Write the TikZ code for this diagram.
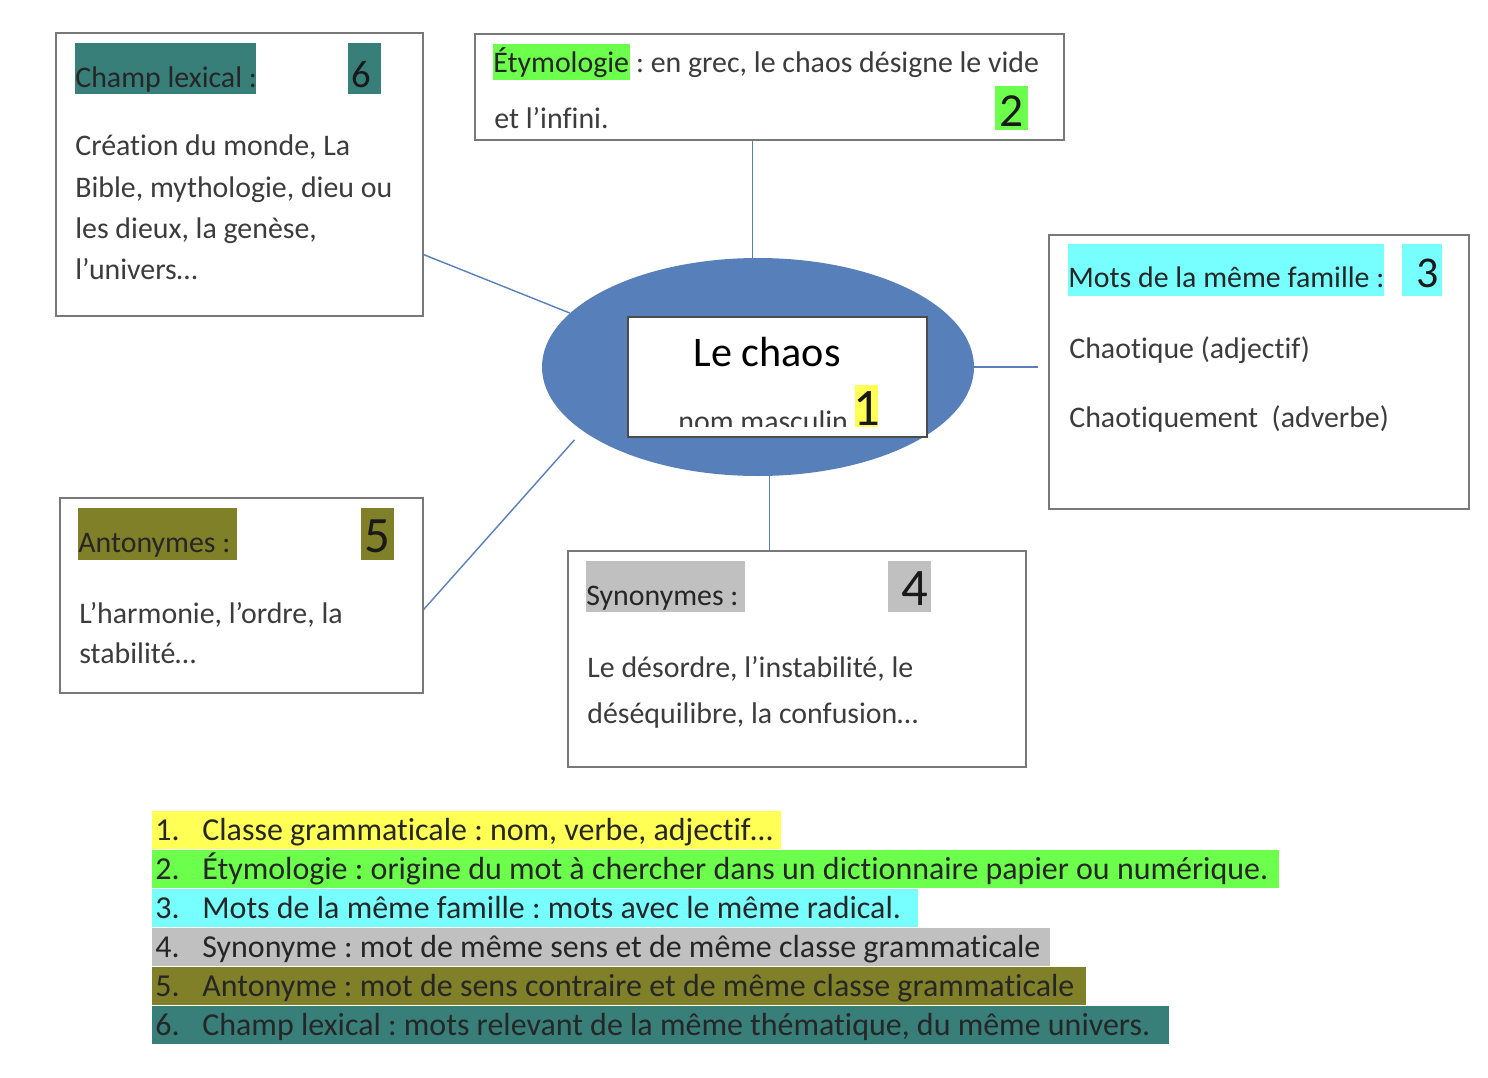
\documentclass[tikz,border=0pt]{standalone}
\usepackage{fontspec}
\setmainfont{Carlito}[Ligatures={TeX,NoCommon}]
\usetikzlibrary{calc}
\usetikzlibrary{shapes.geometric}
\usepackage{xcolor}

\definecolor{jaune}{RGB}{255,255,85}
\definecolor{vert}{RGB}{108,255,76}
\definecolor{cyan3}{RGB}{119,255,255}
\definecolor{gris4}{RGB}{192,192,192}
\definecolor{olive5}{RGB}{128,128,40}
\definecolor{teal6}{RGB}{56,127,122}
\definecolor{bleu}{RGB}{87,127,186}
\definecolor{bordgris}{RGB}{120,120,120}
\definecolor{texte}{RGB}{60,60,60}

\newlength{\pxu}
\setlength{\pxu}{0.02cm}
\frenchspacing

\tikzset{
  boite/.style={draw=bordgris, line width=0.9pt, inner sep=0, anchor=north west},
  ligne/.style={anchor=base west, inner sep=0, text=texte, font=\fontsize{17}{20}\selectfont},
  surl/.style={anchor=north west, inner sep=0, text=black!85, font=\fontsize{17}{20}\selectfont},
  numero/.style={anchor=north west, inner sep=0, text=black!90},
  liste/.style={anchor=north west, inner sep=0, text=black!85, text height=29\pxu, text depth=9\pxu, font=\fontsize{18.2}{20}\selectfont},
  lien/.style={draw=bleu, line width=0.8pt}
}

\begin{document}
\begin{tikzpicture}[x=0.02cm, y=-0.02cm]
\fill[white] (0,0) rectangle (1488,1078);
\useasboundingbox (0,0) rectangle (1488,1078);

% les cadres
\node[boite, minimum width=367\pxu, minimum height=283\pxu] (champ) at (55,32) {};
\node[boite, minimum width=589\pxu, minimum height=106\pxu] (etym) at (474,33) {};
\node[boite, minimum width=420\pxu, minimum height=274\pxu] (famille) at (1048,234) {};
\node[boite, minimum width=363\pxu, minimum height=195\pxu] (anto) at (59,497) {};
\node[boite, minimum width=458\pxu, minimum height=216\pxu] (syno) at (567,550) {};

% le centre
\node[ellipse, fill=bleu, inner sep=0, minimum width=432\pxu, minimum height=218\pxu] (coeur) at (758,367) {};
\node[boite, fill=white, draw=black!70, minimum width=299\pxu, minimum height=120\pxu] (mot) at (627,316) {};
\node[ligne, anchor=base, text=black, font=\fontsize{24}{28}\selectfont] (titre) at (767,366) {Le chaos};
\begin{scope}
  \clip (mot.north west) rectangle ([yshift=11\pxu]mot.south east);
  \node[ligne] (genre) at (678,431) {nom masculin};
  \node[numero, fill=jaune, text height=40\pxu, text depth=4\pxu, font=\fontsize{30}{30}\selectfont] (n1) at (855,385) {\makebox[23\pxu]{1}};
\end{scope}

% les liens
\draw[lien] (coeur.93) -- (coeur.93 |- etym.south);
\draw[lien] (coeur.164) -- ([yshift=62\pxu]champ.south east);
\draw[lien] (coeur.east) -- ([xshift=-10\pxu]coeur.east -| famille.west);
\draw[lien] (coeur.-84) -- (coeur.-84 |- syno.north);
\draw[lien, shorten <=12\pxu] (coeur.200) -- ([yshift=84\pxu]anto.south east);

% champ lexical
\node[surl, fill=teal6, text height=44\pxu, text depth=7\pxu] (t6) at (75,43) {\makebox[181\pxu][l]{Champ lexical :}};
\node[numero, fill=teal6, text height=44\pxu, text depth=7\pxu, font=\fontsize{22}{22}\selectfont] (n6) at (348,43) {\makebox[33\pxu][l]{\hspace*{3\pxu}6}};
\node[ligne] (c1) at (75,155) {Création du monde, La};
\node[ligne] (c2) at (75,197) {Bible, mythologie, dieu ou};
\node[ligne] (c3) at (75,238) {les dieux, la genèse,};
\node[ligne] (c4) at (75,279) {l’univers…};

% etymologie
\node[surl, fill=vert, text height=28\pxu, text depth=8\pxu] (t2) at (493,44) {\makebox[137\pxu][l]{Étymologie}};
\node[ligne] (e1) at ([xshift=5\pxu]t2.base east) {: en grec, le chaos désigne le vide};
\node[ligne] (e2) at (494,129) {et l’infini.};
\node[numero, fill=vert, text height=40\pxu, text depth=4\pxu, font=\fontsize{27}{27}\selectfont] (n2) at (995,86) {\makebox[33\pxu]{2}};

% mots de la meme famille
\node[surl, fill=cyan3, text height=43\pxu, text depth=9\pxu] (t3) at (1068,244) {\makebox[316\pxu][l]{Mots de la même famille :}};
\node[numero, fill=cyan3, text height=43\pxu, text depth=9\pxu, font=\fontsize{25}{25}\selectfont] (n3) at (1402,244) {\makebox[40\pxu][r]{3\hspace*{4\pxu}}};
\node[ligne] (f1) at (1069,358) {Chaotique (adjectif)};
\node[ligne] (f2) at (1069,427) {Chaotiquement\ \ (adverbe)};

% antonymes
\node[surl, fill=olive5, text height=44\pxu, text depth=8\pxu] (t5) at (78,508) {\makebox[159\pxu][l]{Antonymes :}};
\node[numero, fill=olive5, text height=44\pxu, text depth=8\pxu, font=\fontsize{29}{29}\selectfont] (n5) at (361,508) {\makebox[33\pxu]{5}};
\node[ligne] (a1) at (79,623) {L’harmonie, l’ordre, la};
\node[ligne] (a2) at (79,663) {stabilité…};

% synonymes
\node[surl, fill=gris4, text height=44\pxu, text depth=7\pxu] (t4) at (586,561) {\makebox[159\pxu][l]{Synonymes :}};
\node[numero, fill=gris4, text height=44\pxu, text depth=7\pxu, font=\fontsize{30}{30}\selectfont] (n4) at (888,561) {\makebox[43\pxu][r]{4\hspace*{3\pxu}}};
\node[ligne] (s1) at (587,677) {Le désordre, l’instabilité, le};
\node[ligne] (s2) at (587,723) {déséquilibre, la confusion…};

% la legende
\foreach \n/\coul/\larg/\txt in {
  1/jaune/629/{Classe grammaticale : nom, verbe, adjectif…},
  2/vert/1127/{Étymologie : origine du mot à chercher dans un dictionnaire papier ou numérique.},
  3/cyan3/766/{Mots de la même famille : mots avec le même radical.},
  4/gris4/898/{Synonyme : mot de même sens et de même classe grammaticale},
  5/olive5/934/{Antonyme : mot de sens contraire et de même classe grammaticale},
  6/teal6/1017/{Champ lexical : mots relevant de la même thématique, du même univers.}}
  \node[liste, fill=\coul] (l\n) at (152,{772+39*\n}) {\makebox[\larg\pxu][l]{\hspace*{3\pxu}\makebox[47\pxu][l]{\n.}\txt}};
\end{tikzpicture}
\end{document}
